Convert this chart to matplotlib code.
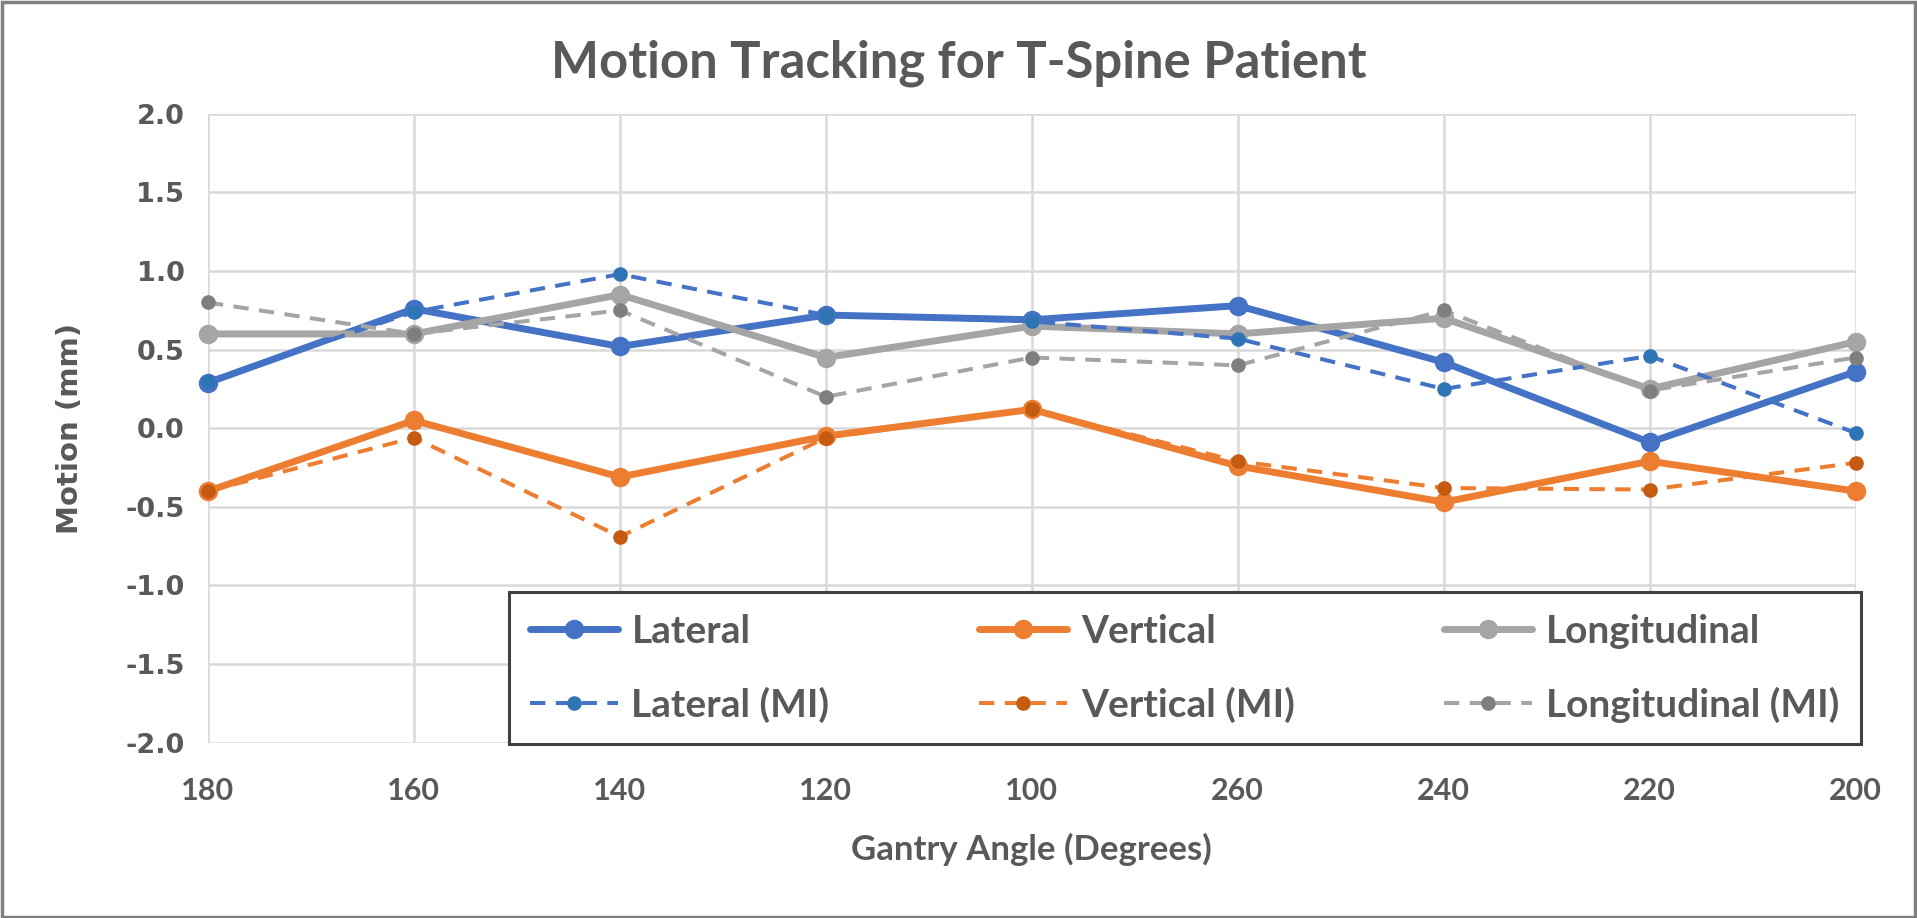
import matplotlib
matplotlib.use("Agg")
import matplotlib.pyplot as plt
from matplotlib.patches import Rectangle

angles = ["180", "160", "140", "120", "100", "260", "240", "220", "200"]
lateral = [0.29, 0.76, 0.52, 0.72, 0.69, 0.78, 0.42, -0.09, 0.36]
vertical = [-0.40, 0.05, -0.31, -0.05, 0.12, -0.24, -0.47, -0.21, -0.40]
longitudinal = [0.60, 0.60, 0.85, 0.45, 0.65, 0.60, 0.70, 0.25, 0.55]
lateral_mi = [0.30, 0.74, 0.98, 0.72, 0.68, 0.57, 0.25, 0.46, -0.03]
vertical_mi = [-0.40, -0.06, -0.69, -0.06, 0.12, -0.21, -0.38, -0.39, -0.22]
longitudinal_mi = [0.80, 0.60, 0.75, 0.20, 0.45, 0.40, 0.75, 0.24, 0.45]
yticks = [-2.0, -1.5, -1.0, -0.5, 0.0, 0.5, 1.0, 1.5, 2.0]

plt.rcParams['font.family'] = ['Lato', 'DejaVu Sans']
txt = '#595959'

fig = plt.figure(figsize=(19.17, 9.18), dpi=100)
ax = fig.add_axes([0.1085, 0.191, 0.8595, 0.685])
x = list(range(len(angles)))

solid = [(lateral, '#4472C4', '#4472C4', 'Lateral'),
         (vertical, '#ED7D31', '#ED7D31', 'Vertical'),
         (longitudinal, '#A5A5A5', '#A5A5A5', 'Longitudinal')]
dashed = [(lateral_mi, '#4472C4', '#2E75B6', 'Lateral (MI)'),
          (vertical_mi, '#ED7D31', '#C55A11', 'Vertical (MI)'),
          (longitudinal_mi, '#A5A5A5', '#7F7F7F', 'Longitudinal (MI)')]

handles = {}
for vals, lc, mc, lab in solid:
    h, = ax.plot(x, vals, '-', color=lc, lw=5, marker='o', ms=13,
                 mfc=mc, mec=mc, label=lab, zorder=3, clip_on=False,
                 solid_capstyle='round')
    handles[lab] = h
for vals, lc, mc, lab in dashed:
    h, = ax.plot(x, vals, '--', color=lc, lw=2.9, dashes=(3.8, 2.6), marker='o', ms=9.5,
                 mfc=mc, mec=mc, label=lab, zorder=4, clip_on=False)
    handles[lab] = h

ax.set_xlim(0, len(angles) - 1)
ax.set_ylim(-2.0, 2.0)
ax.set_xticks(x)
ax.set_xticklabels(angles)
ax.set_yticks(yticks)
ax.set_yticklabels([f"{v:.1f}" for v in yticks])
ax.grid(True, color='#D9D9D9', lw=1.8, zorder=0)
for s in ax.spines.values():
    s.set_visible(False)
ax.tick_params(axis='x', length=0, labelsize=22, colors=txt, pad=25)
ax.tick_params(axis='y', length=0, labelsize=19.5, colors=txt, pad=17)
for lbl in ax.get_xticklabels():
    lbl.set_fontweight('bold')
for lbl in ax.get_yticklabels():
    lbl.set_fontweight('bold')
    lbl.set_family('DejaVu Sans')

ax.set_xlabel('Gantry Angle (Degrees)', fontsize=25, fontweight='bold', color=txt, labelpad=20)
ax.set_ylabel('Motion (mm)', fontsize=21, fontweight='bold', color=txt, family='DejaVu Sans')
ax.yaxis.set_label_coords(-0.075, 0.5)
fig.text(0.5, 0.931, 'Motion Tracking for T-Spine Patient', ha='center', va='center',
         fontsize=36.5, fontweight='bold', color=txt)

order = ['Lateral', 'Lateral (MI)', 'Vertical', 'Vertical (MI)', 'Longitudinal', 'Longitudinal (MI)']
leg = ax.legend([handles[k] for k in order], order, ncol=3, loc='lower right',
                bbox_to_anchor=(1.003, -0.002),
                fontsize=28, frameon=True, fancybox=False,
                edgecolor='#404040', framealpha=1, borderpad=0.55, labelspacing=0.97,
                handlelength=2.26, handletextpad=0.35, columnspacing=3.85, borderaxespad=0)
leg.get_frame().set_linewidth(2.2)
for t in leg.get_texts():
    t.set_color(txt)
    t.set_fontweight('bold')
leg.set_zorder(10)

fig.patches.append(Rectangle((0.001, 0.001), 0.998, 0.997, transform=fig.transFigure,
                             fill=False, edgecolor='#808080', lw=2.5))

fig.savefig('out.png', dpi=100, facecolor='white')
